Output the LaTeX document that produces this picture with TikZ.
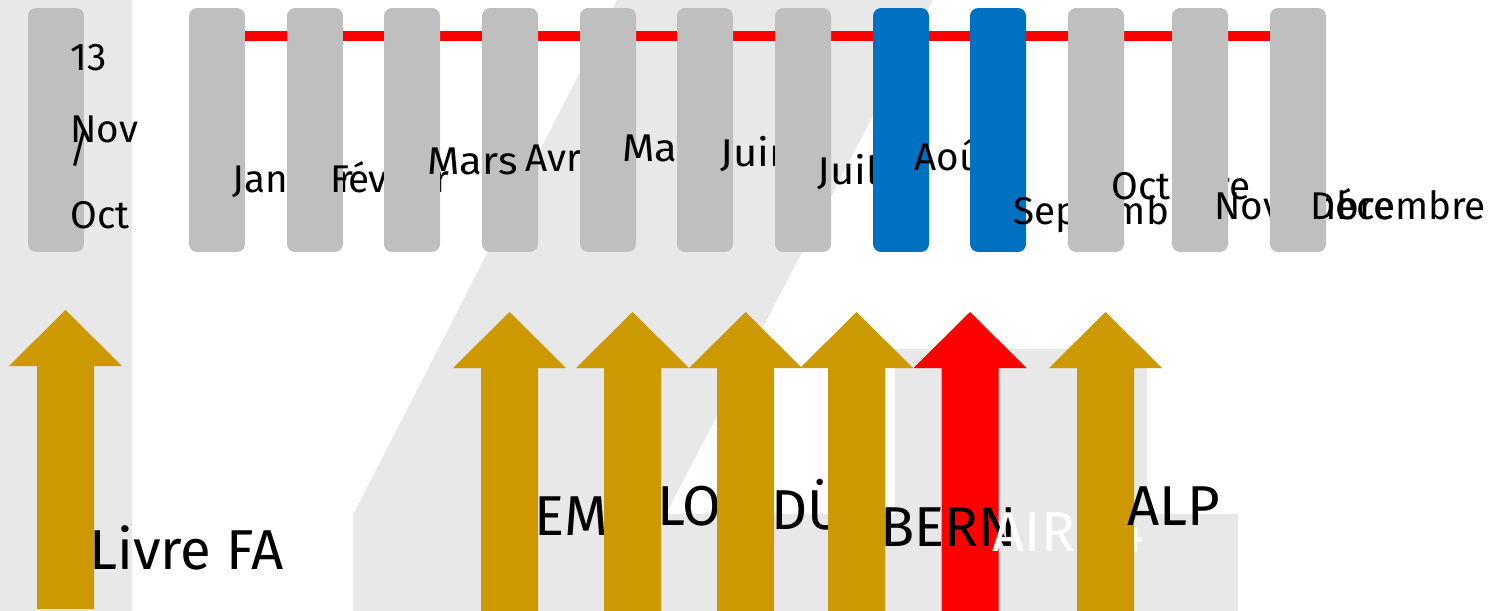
\documentclass[tikz,border=0pt]{standalone}
\usepackage{fontspec}
\setmainfont{Fira Sans}
\newfontfamily\widefont{Fira Sans}[FakeStretch=1.08]
\definecolor{barg}{HTML}{BFBFBF}
\definecolor{barblue}{HTML}{0070C0}
\definecolor{bglight}{HTML}{E8E8E8}
\definecolor{gold}{HTML}{CC9900}
\tikzset{
  monthbar/.style={rectangle, fill=barg, rounded corners=0.16cm, inner sep=0pt,
                   minimum width=1.12cm, minimum height=4.88cm},
  holiday/.style={monthbar, fill=barblue},
  monthlabel/.style={anchor=base west, inner sep=0pt, font=\fontsize{22}{26}\selectfont},
  widelabel/.style={monthlabel, font=\widefont\fontsize{22}{26}\selectfont},
  eventlabel/.style={anchor=base west, inner sep=0pt, font=\fontsize{32}{38}\selectfont},
  uparrow/.pic={
    \fill[#1] (-28.5,0) -- (-28.5,-243) -- (-56.5,-243) -- (0,-299)
              -- (56.5,-243) -- (28.5,-243) -- (28.5,0) -- cycle;
  }
}
\begin{document}
\begin{tikzpicture}[x=0.02cm, y=-0.02cm]
            \useasboundingbox (0,0) rectangle (1504,611);

            % background
            \fill[bglight] (0,0) rectangle (132,611);
            \fill[bglight] (617,0) -- (933,0) -- (666,514) -- (895,514) -- (895,349)
                -- (1147,349) -- (1147,514) -- (1238,514) -- (1238,611) -- (353,611)
                -- (353,515) -- cycle;

            \coordinate (linestart) at (245,36);
            \coordinate (lineend) at (1270,36);
            \draw[red, line width=0.2cm] (linestart) -- (lineend);

            % months
            \node at (56,130) [monthbar] (octnov) {};
            \node at (70,71) [monthlabel] (l13) {13};
            \node at (70,143) [monthlabel] (lnovcur) {Nov};
            \node at (69,163) [monthlabel] (lslash) {/};
            \node at (70,229) [monthlabel] (loctcur) {Oct};

            \node at (217,130) [monthbar] (jan) {};
            \node at (232,193) [monthlabel] (ljan) {Janvier};
            \node at (315,130) [monthbar] (fev) {};
            \node at (330,193) [monthlabel] (lfev) {Février};
            \node at (412,130) [monthbar] (mar) {};
            \node at (510,130) [monthbar] (avr) {};
            \node at (427,175) [widelabel] (lmar) {Mars};
            \node at (525,172) [monthlabel] (lavr) {Avril};
            \node at (608,130) [monthbar] (mai) {};
            \node at (622,162) [widelabel] (lmai) {Mai};
            \node at (705,130) [monthbar] (juin) {};
            \node at (720,167) [widelabel] (ljuin) {Juin};
            \node at (803,130) [monthbar] (juil) {};
            \node at (817,185) [widelabel] (ljuil) {Juillet};
            \node at (901,130) [holiday] (aout) {};
            \node at (914,171) [monthlabel] (laout) {Août};
            \node at (998,130) [holiday] (sep) {};
            \node at (1013,225) [monthlabel] (lsep) {Septembre};
            \node at (1096,130) [monthbar] (oct) {};
            \node at (1111,200) [monthlabel] (loct) {Octobre};
            \node at (1200,130) [monthbar] (nov) {};
            \node at (1214,220) [monthlabel] (lnov) {Novembre};
            \node at (1298,130) [monthbar] (dec) {};
            \node at (1310,220) [monthlabel] (ldec) {Décembre};

            % events
            \pic at (65.5,609) {uparrow=gold};
            \node at (89,569) [eventlabel] (livre) {Livre FA};

            \pic at (509.5,611) {uparrow=gold};
            \node at (534,535) [eventlabel] (em) {EM};
            \pic at (632.5,611) {uparrow=gold};
            \node at (657,525) [eventlabel] (lo) {LO};
            \pic at (745.5,611) {uparrow=gold};
            \node at (771,529) [eventlabel] (du) {DÜ};
            \pic at (856.5,611) {uparrow=gold};
            \pic at (970,611) {uparrow=red};
            \node at (880,546) [eventlabel] (bern) {BERN};
            \node at (992,551) [eventlabel, white] (air) {AIR 14};
            \pic at (1105.5,611) {uparrow=gold};
            \node at (1127,525) [eventlabel] (alp) {ALP};
        \end{tikzpicture}
\end{document}
